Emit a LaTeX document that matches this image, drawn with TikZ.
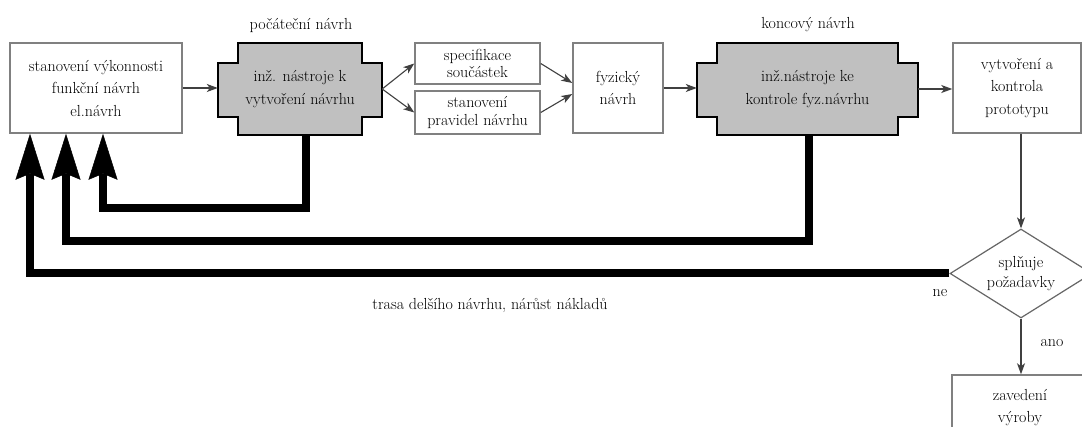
\documentclass[tikz,border=0pt]{standalone}
\usepackage{fontspec}
\usetikzlibrary{arrows.meta,shapes.geometric,calc}
\pgfdeclarelayer{background}
\pgfsetlayers{background,main}
\definecolor{boxgray}{RGB}{192,192,192}
\newcommand\crossbox[1]{%
  \draw[line width=1.5pt, fill=boxgray]
    ($(#1.north west)+(20,0)$) -- ($(#1.north east)+(-20,0)$) --
    ($(#1.north east)+(-20,20)$) -- ($(#1.north east)+(0,20)$) --
    ($(#1.south east)+(0,-18)$) -- ($(#1.south east)+(-20,-18)$) --
    ($(#1.south east)+(-20,0)$) -- ($(#1.south west)+(20,0)$) --
    ($(#1.south west)+(20,-18)$) -- ($(#1.south west)+(0,-18)$) --
    ($(#1.north west)+(0,20)$) -- ($(#1.north west)+(20,20)$) -- cycle;}
\begin{document}
\begin{tikzpicture}[x=1pt,y=-1pt,
  every node/.style={font=\fontsize{16}{22.5}\selectfont, align=center, inner sep=0pt},
  wbox/.style={draw=black!50, line width=1.5pt, fill=white},
  small/.style={font=\fontsize{16}{17.5}\selectfont},
  arr/.style={draw=black!75, line width=1.1pt, -{Stealth[length=11pt,width=8pt,inset=3pt]}},
  fb/.style={draw=black, line width=8pt, -{Stealth[length=46pt,width=29pt,inset=6pt,line width=0.5pt]}}]
\useasboundingbox (0,0) rectangle (1082,427);

\node[wbox, minimum width=172pt, minimum height=90pt] (b1) at (96,88) {stanovení výkonnosti\\funkční návrh\\el.návrh};
\node[minimum width=164pt, minimum height=92pt] (g1) at (300,89) {inž. nástroje k\\vytvoření návrhu};
\node[wbox, small, minimum width=125pt, minimum height=41pt] (sA) at (477.5,63.5) {specifikace\\součástek};
\node[wbox, small, minimum width=125pt, minimum height=43pt] (sB) at (477.5,112.5) {stanovení\\pravidel návrhu};
\node[wbox, minimum width=90pt, minimum height=90pt] (fy) at (618,88) {fyzický\\návrh};
\node[minimum width=221pt, minimum height=92pt] (g2) at (807.5,89) {inž.nástroje ke\\kontrole fyz.návrhu};
\node[wbox, minimum width=128pt, minimum height=90pt] (pr) at (1017,88) {vytvoření a\\kontrola\\prototypu};
\node[diamond, draw=black!60, line width=1.2pt, fill=white, aspect=1.6, minimum width=142pt, minimum height=89pt, font=\fontsize{16}{20}\selectfont] (dm) at (1021,273.5) {splňuje\\požadavky};
\node[wbox, minimum width=136pt, minimum height=65pt] (zv) at (1020,407.5) {zavedení\\výroby};

\begin{pgfonlayer}{background}
  \fill[white] (0,0) rectangle (1082,427);
  \crossbox{g1}
  \crossbox{g2}
\end{pgfonlayer}

\node (lp) at (301,25) {počáteční návrh};
\node (lk) at (808,25) {koncový návrh};
\node (lt) at (490,305) {trasa delšího návrhu, nárůst nákladů};
\node (ne) at (940,293) {ne};
\node (ano) at (1052,343) {ano};

\draw[arr] (b1.east) -- (b1.east -| g1.west);
\draw[arr] (g1.east) -- (sA.west);
\draw[arr] (g1.east) -- (sB.west);
\draw[arr] (sA.east) -- ([yshift=5pt]fy.west);
\draw[arr] (sB.east) -- ([yshift=-6pt]fy.west);
\draw[arr] (fy.east) -- (fy.east -| g2.west);
\draw[arr] (g2.east) -- (g2.east -| pr.west);
\draw[arr] (pr.south -| dm.north) -- (dm.north);
\draw[arr] (dm.south) -- (dm.south |- zv.north);

\coordinate (k1) at (103,208);
\coordinate (k2) at (66,241);
\coordinate (k3) at (30,274);
\draw[fb] ([xshift=6pt]g1.south) |- (k1) -- (k1 |- b1.south);
\draw[fb] ([xshift=1.5pt]g2.south) |- (k2) -- (k2 |- b1.south);
\draw[fb] (dm.west) -| (k3 |- b1.south);
\end{tikzpicture}
\end{document}
